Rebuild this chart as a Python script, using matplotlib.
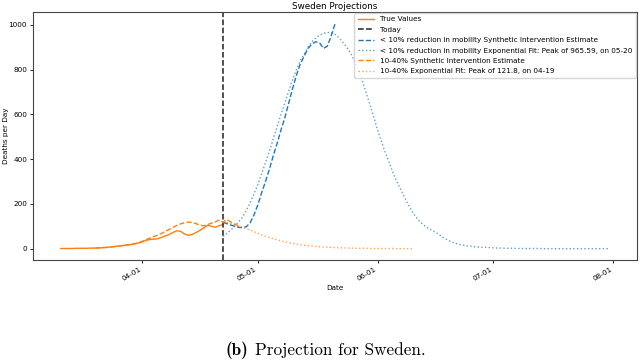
import matplotlib
matplotlib.use("Agg")
import matplotlib.pyplot as plt
import matplotlib.dates as mdates
import pandas as pd

# ---- data ----
true_start = "2020-03-11"
true_values = [1, 1, 1, 1, 2, 2, 2, 2, 3, 3, 4, 5, 6, 8, 10, 12, 14, 16, 18, 21, 25,
               30, 37, 41, 43, 44, 50, 57, 63, 72, 80, 78, 66, 60, 64, 72, 82, 93, 105,
               100, 96, 103, 108]

today = "2020-04-22"

si_low_start = "2020-03-20"
si_low = [3, 4, 5, 6, 8, 10, 12, 14, 17, 19, 22, 26,
          32, 40, 47, 54, 60, 68, 76, 86, 95, 104, 111, 116, 119, 117, 112, 106, 102,
          108, 114, 120, 128, 118, 130, 120, 110, 102]

si_high_start = "2020-04-22"
si_high = [118, 112, 106, 100, 96, 94, 98, 115, 150,
           195, 250, 300, 355, 415, 470, 530, 585, 650, 715, 775, 825, 860, 895, 915,
           925, 920, 895, 905, 950, 1005]

fit_high_start = "2020-04-22"
fit_high = [55, 68, 83, 100, 120, 140, 170, 205, 245,
            285, 335, 385, 435, 490, 545, 600, 650, 705, 755, 800, 840, 870, 900, 925,
            942, 954, 962, 966, 966, 958, 943, 923, 900, 875, 840, 800, 755, 700, 645, 590,
            531, 480, 430, 385, 340, 300, 265, 230, 195, 165, 140, 120, 105, 93, 83, 74,
            62, 50, 40, 32, 25, 20, 16, 13, 11, 9, 8, 7, 6, 5,
            4, 3, 3, 2, 2, 2, 1, 1, 1, 1, 1, 1, 1, 0, 0, 0, 0, 0, 0, 0, 0, 0, 0, 0, 0,
            0, 0, 0, 0, 0, 0]

fit_low_start = "2020-04-22"
fit_low = [122, 118, 113, 107, 101, 96, 89, 83, 76,
           69, 62, 56, 50, 45, 40, 35, 31, 27, 24, 21, 18, 16, 14, 12, 10, 9, 8, 7, 6,
           5, 4, 4, 3, 3, 2, 2, 2, 2, 1, 1,
           1, 1, 1, 1, 1, 0, 0, 0, 0, 0]

labels = ["True Values", "Today",
          "< 10% reduction in mobility Synthetic Intervention Estimate",
          "< 10% reduction in mobility Exponential Fit: Peak of 965.59, on 05-20",
          "10-40% Synthetic Intervention Estimate",
          "10-40% Exponential Fit: Peak of 121.8, on 04-19"]


def dates(start, vals):
    return pd.date_range(start, periods=len(vals), freq="D")


BLUE = "#1f77b4"
ORANGE = "#ff7f0e"
FS = 5.2

fig = plt.figure(figsize=(6.4, 3.62), dpi=100)
ax = fig.add_axes([0.052, 0.282, 0.943, 0.685])

lw = 1.0
ax.plot(dates(true_start, true_values), true_values, color=ORANGE, lw=lw, label=labels[0])
ax.axvline(pd.Timestamp(today), color="#222222", ls="--", lw=1.1, label=labels[1])
ax.plot(dates(si_high_start, si_high), si_high, color=BLUE, ls="--", lw=lw, label=labels[2])
ax.plot(dates(fit_high_start, fit_high), fit_high, color=BLUE, ls=":", lw=lw, alpha=0.7, label=labels[3])
ax.plot(dates(si_low_start, si_low), si_low, color=ORANGE, ls="--", lw=lw, label=labels[4])
ax.plot(dates(fit_low_start, fit_low), fit_low, color=ORANGE, ls=":", lw=lw, alpha=0.7, label=labels[5])

ax.set_ylim(-50, 1058)
ax.set_yticks([0, 200, 400, 600, 800, 1000])
ax.xaxis.set_major_locator(mdates.MonthLocator())
ax.xaxis.set_major_formatter(mdates.DateFormatter("%m-%d"))
for t in ax.get_xticklabels():
    t.set_rotation(30)
    t.set_ha("right")
ax.tick_params(labelsize=FS, length=2.5, width=0.6, pad=2)
for s in ax.spines.values():
    s.set_linewidth(0.8)
    s.set_color("#444444")

ax.set_title("Sweden Projections", fontsize=6.3, pad=2)
ax.set_xlabel("Date", fontsize=FS, labelpad=2)
ax.set_ylabel("Deaths per Day", fontsize=FS)
ax.yaxis.set_label_coords(-0.04, 0.5)

ax.legend(loc="upper right", fontsize=FS, borderaxespad=0.15, handlelength=2.2,
          labelspacing=0.6, borderpad=0.45, handletextpad=0.9)

t1 = fig.text(0.353, 0.018, "(b)", family="cmb10", fontsize=12.4, va="baseline")
fig.canvas.draw()
r = fig.canvas.get_renderer()
bb = t1.get_window_extent(r)
x2 = (bb.x1 + 6) / fig.bbox.width
fig.text(x2, 0.018, "Projection for Sweden.", family="cmr10", fontsize=12.4, va="baseline")

fig.savefig("out.png", dpi=100)
